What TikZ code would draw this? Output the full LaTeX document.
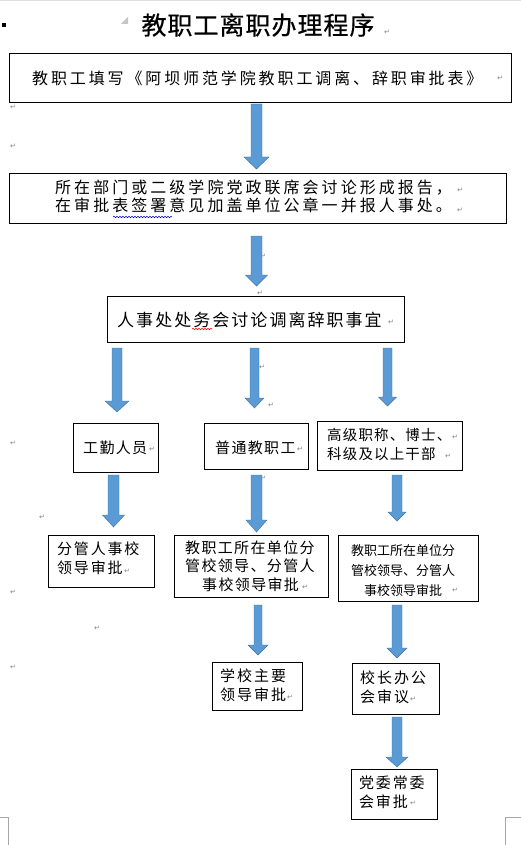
\documentclass[tikz,border=0pt]{standalone}
\usepackage{fontspec}
\setmainfont{Noto Sans CJK SC}
\newfontfamily\symf{DejaVu Sans}
\usetikzlibrary{decorations.pathmorphing}
\definecolor{arrfill}{RGB}{91,155,213}
\definecolor{arredge}{RGB}{65,113,156}
\definecolor{pmark}{RGB}{128,128,128}
\tikzset{
  box/.style={draw=black, line width=0.9pt, inner sep=0pt, anchor=north west},
  txt/.style={inner sep=0pt, anchor=west, align=left},
  pm/.style={inner sep=0pt, text=pmark, font=\symf\fontsize{7}{7}\selectfont},
  barrowsty/.style={fill=arrfill, draw=arredge, line width=0.4pt},
  wavy/.style={line width=0.5pt, decorate, decoration={snake, amplitude=0.8pt, segment length=3pt}}
}
\newcommand\barrow[6]{\filldraw[barrowsty] (#1-#4,#2) -- (#1+#4,#2) -- (#1+#4,#6) -- (#1+#5,#6) -- (#1,#3) -- (#1-#5,#6) -- (#1-#4,#6) -- cycle;}
\newcommand\fs[3]{\fontsize{#1}{#2}\selectfont\addfontfeature{LetterSpace=#3}}
\begin{document}
\begin{tikzpicture}[x=1pt,y=-1pt]
\useasboundingbox (0,0) rectangle (521,845);
% page artefacts
\fill[gray!25] (0,0) rectangle (521,1.5);
\fill[black] (2,23) rectangle (5.5,27);
\fill[gray!45] (128,17) -- (128,24) -- (121,24) -- cycle;
\draw[gray!70, line width=0.8pt] (0,817) -- (8,817) -- (8,845);
\draw[gray!70, line width=0.8pt] (521,817) -- (505,817) -- (505,845);

% title
\node[inner sep=0pt, font={\fs{25}{27}{4}\addfontfeature{FakeBold=0.6}}] (title) at (258,25) {教职工离职办理程序};

% boxes
\node[box, minimum width=502pt, minimum height=49pt] (b1) at (9,53) {};
\node[box, minimum width=497pt, minimum height=50pt] (b2) at (9,173) {};
\node[box, minimum width=297pt, minimum height=46pt] (b3) at (107,296) {};
\node[box, minimum width=85pt, minimum height=49pt] (b4) at (73,423) {};
\node[box, minimum width=104pt, minimum height=46pt] (b5) at (204,423) {};
\node[box, minimum width=145pt, minimum height=49pt] (b6) at (317,421) {};
\node[box, minimum width=106pt, minimum height=52pt] (b7) at (48,535) {};
\node[box, minimum width=154pt, minimum height=62pt] (b8) at (174,535) {};
\node[box, minimum width=140pt, minimum height=66pt] (b9) at (338,535) {};
\node[box, minimum width=90pt, minimum height=48pt] (b10) at (212,662) {};
\node[box, minimum width=87pt, minimum height=51pt] (b11) at (352,663) {};
\node[box, minimum width=86pt, minimum height=50pt] (b12) at (351,769) {};

% texts
\node[txt, font={\fs{16}{18}{18}}] (t1) at (32,78) {教职工填写《阿坝师范学院教职工调离、辞职审批表》};
\node[txt, font={\fs{16}{18}{19}}] (t2) at (55,196) {所在部门或二级学院党政联席会讨论形成报告，\\在审批表签署意见加盖单位公章一并报人事处。};
\node[txt, font={\fs{17}{19}{12}}] (t3) at (117,320) {人事处处务会讨论调离辞职事宜};
\node[txt, font={\fs{15}{18}{9}}] (t4) at (83,448) {工勤人员};
\node[txt, font={\fs{15}{18}{9}}] (t5) at (215,448) {普通教职工};
\node[txt, font={\fs{14.5}{19}{8}}] (t6) at (327,445) {高级职称、博士、\\科级及以上干部};
\node[txt, font={\fs{15}{19}{12}}] (t7) at (57,558) {分管人事校\\领导审批};
\node[txt, font={\fs{15}{18.5}{9}}] (t8) at (185,566) {教职工所在单位分\\管校领导、分管人\\\hspace*{17pt}事校领导审批};
\node[txt, font={\fs{13}{20}{0}}] (t9) at (351,571) {教职工所在单位分\\管校领导、分管人\\\hspace*{13pt}事校领导审批};
\node[txt, font={\fs{15}{19}{13}}] (t10) at (220,685) {学校主要\\领导审批};
\node[txt, font={\fs{15}{19}{13}}] (t11) at (360,687) {校长办公\\会审议};
\node[txt, font={\fs{15}{19}{12}}] (t12) at (359,792) {党委常委\\会审批};

% spell-check underlines
\draw[wavy, blue!80!black] (113,217) -- (172,217);
\draw[wavy, red] (192,329) -- (212,329);

% paragraph marks
\node[pm] (pm1) at (387,32) {↵};
\node[pm] (pm2) at (500,78) {↵};
\node[pm] (pm3) at (13,107) {↵};
\node[pm] (pm4) at (13,146) {↵};
\node[pm] (pm5) at (460,190) {↵};
\node[pm] (pm6) at (460,210) {↵};
\node[pm] (pm7) at (263,256) {↵};
\node[pm] (pm8) at (260,293) {↵};
\node[pm] (pm9) at (391,322) {↵};
\node[pm] (pm10) at (262,367) {↵};
\node[pm] (pm11) at (271,405) {↵};
\node[pm] (pm12) at (13,443) {↵};
\node[pm] (pm13) at (152,449) {↵};
\node[pm] (pm14) at (300,449) {↵};
\node[pm] (pm15) at (455,437) {↵};
\node[pm] (pm16) at (448,456) {↵};
\node[pm] (pm17) at (263,478) {↵};
\node[pm] (pm18) at (42,517) {↵};
\node[pm] (pm19) at (13,592) {↵};
\node[pm] (pm20) at (127,571) {↵};
\node[pm] (pm21) at (305,587) {↵};
\node[pm] (pm22) at (455,590) {↵};
\node[pm] (pm23) at (97,628) {↵};
\node[pm] (pm24) at (13,667) {↵};
\node[pm] (pm25) at (290,697) {↵};
\node[pm] (pm26) at (413,699) {↵};
\node[pm] (pm27) at (413,803) {↵};

% block arrows: x, top, tip, shaft half-width, head half-width, head start
\barrow{256.5}{104}{169}{5.5}{12.5}{157}
\barrow{256.5}{236}{286}{5.5}{11}{275}
\barrow{117}{348}{412}{5}{12}{401}
\barrow{254.5}{348}{408}{4.5}{9.5}{398}
\barrow{387.5}{348}{406}{4.5}{9}{397}
\barrow{113.5}{475}{527}{5.5}{11}{515}
\barrow{256.5}{475}{532}{5.5}{10.5}{520}
\barrow{397}{475}{521}{5}{9}{512}
\barrow{258}{605}{655}{4}{10}{645}
\barrow{397}{605}{658}{5}{10}{648}
\barrow{397}{717}{767}{5}{11}{757}
\end{tikzpicture}
\end{document}
